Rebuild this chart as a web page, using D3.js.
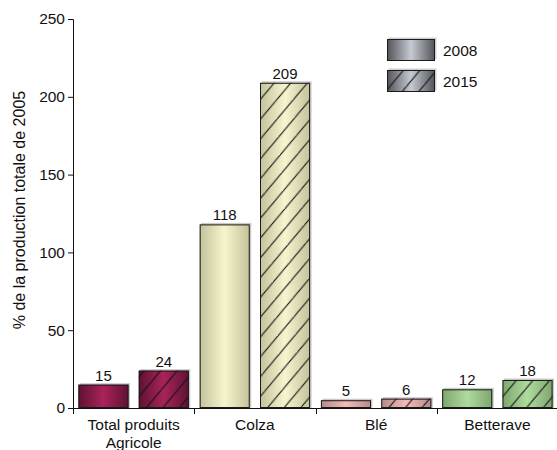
<!DOCTYPE html>
<html>
<head>
<meta charset="utf-8">
<script src="https://cdn.jsdelivr.net/npm/d3@7"></script>
<style>
  html, body { margin: 0; padding: 0; background: #fff; }
  svg { display: block; font-family: "Liberation Sans", Arial, Helvetica, sans-serif; }
</style>
</head>
<body>
<svg id="chart" width="557" height="450"></svg>
<script>
// Production relative à 2005, par filière
const categories = ["Total produits|Agricole", "Colza", "Blé", "Betterave"];
const series = ["2008", "2015"];
const values2008 = [15, 118, 5, 12];
const values2015 = [24, 209, 6, 18];
const yTicks = [0, 50, 100, 150, 200, 250];
const yLabel = "% de la production totale de 2005";

// couleurs de chaque filière : bord sombre, centre clair
const barColors = [
  { edge: "#5e1233", mid: "#a9235a" },
  { edge: "#c4c29a", mid: "#f7f5cd" },
  { edge: "#b48a8a", mid: "#f6bab6" },
  { edge: "#7ea66e", mid: "#aedb9e" }
];
const legendColor = { edge: "#505257", mid: "#c6cad2" };

const svg = d3.select("#chart");
const margin = { left: 73, right: 0, top: 19, bottom: 42 };
const W = 557, H = 450;

const x = d3.scaleBand().domain(d3.range(categories.length))
  .range([margin.left, 558]).padding(0);
const xs = d3.scaleBand().domain(series)
  .range([0, x.bandwidth()]).paddingInner(0.17).paddingOuter(0.09);
const y = d3.scaleLinear().domain([0, 250]).range([H - margin.bottom, margin.top]);

const defs = svg.append("defs");

function gradient(id, c) {
  const g = defs.append("linearGradient").attr("id", id)
    .attr("x1", "0%").attr("x2", "100%").attr("y1", "0%").attr("y2", "0%");
  g.append("stop").attr("offset", "0%").attr("stop-color", c.edge);
  g.append("stop").attr("offset", "50%").attr("stop-color", c.mid);
  g.append("stop").attr("offset", "100%").attr("stop-color", c.edge);
}
barColors.forEach((c, i) => gradient("grad" + i, c));
gradient("gradLegend", legendColor);

// motif hachuré pour la série 2015
const hatch = defs.append("pattern").attr("id", "hatch")
  .attr("patternUnits", "userSpaceOnUse")
  .attr("width", 18).attr("height", 18)
  .attr("patternTransform", "rotate(-5)");
hatch.append("path").attr("d", "M-2,20 L20,-2 M-20,20 L2,-2 M16,38 L38,16")
  .attr("stroke", "#111").attr("stroke-width", 1.1).attr("fill", "none");

const rows = categories.map((c, i) => ({ i, vals: [values2008[i], values2015[i]] }));

const groups = svg.append("g").selectAll("g").data(rows).join("g")
  .attr("transform", d => `translate(${x(d.i)},0)`);

groups.each(function (d) {
  const g = d3.select(this);
  series.forEach((s, k) => {
    const v = d.vals[k];
    const bx = xs(s), bw = xs.bandwidth();
    const top = y(v), h = y(0) - y(v);
    // ombre légère
    g.append("rect").attr("x", bx + 1.5).attr("y", top - 1.5)
      .attr("width", bw).attr("height", h + 1.5).attr("fill", "#c9c9c9");
    g.append("rect").attr("x", bx).attr("y", top).attr("width", bw).attr("height", h)
      .attr("fill", `url(#grad${d.i})`);
    if (k === 1) {
      g.append("rect").attr("x", bx).attr("y", top).attr("width", bw).attr("height", h)
        .attr("fill", "url(#hatch)");
    }
    g.append("rect").attr("x", bx + 0.5).attr("y", top + 0.5)
      .attr("width", bw - 1).attr("height", Math.max(0, h - 1))
      .attr("fill", "none").attr("stroke", "#1a1a1a").attr("stroke-width", 1);
    g.append("text").attr("x", bx + bw / 2).attr("y", top - 4)
      .attr("text-anchor", "middle").attr("font-size", 15).attr("fill", "#111")
      .text(v);
  });
});

// axe Y
const yAxis = svg.append("g").attr("transform", `translate(${margin.left},0)`)
  .call(d3.axisLeft(y).tickValues(yTicks).tickSize(5).tickPadding(3));
yAxis.selectAll("text").attr("font-size", 15.5).attr("fill", "#111")
  .attr("font-family", "Liberation Sans, Arial, sans-serif");
yAxis.selectAll("line").attr("stroke", "#111");
yAxis.select(".domain").attr("stroke", "#111");

// axe X avec graduations entre les catégories
const xAxisG = svg.append("g").attr("transform", `translate(0,${y(0)})`);
xAxisG.append("line").attr("x1", margin.left).attr("x2", W)
  .attr("y1", 0.5).attr("y2", 0.5).attr("stroke", "#111");
const bounds = d3.range(categories.length).map(i => x(i));
xAxisG.selectAll("line.tick").data(bounds).join("line").attr("class", "tick")
  .attr("x1", d => Math.round(d) + 0.5).attr("x2", d => Math.round(d) + 0.5)
  .attr("y1", 0).attr("y2", 6).attr("stroke", "#111");
xAxisG.selectAll("text").data(categories).join("text")
  .attr("text-anchor", "middle").attr("font-size", 15.5).attr("fill", "#111")
  .attr("transform", (d, i) => `translate(${x(i) + x.bandwidth() / 2},0)`)
  .each(function (d) {
    const t = d3.select(this);
    d.split("|").forEach((line, j) => {
      t.append("tspan").attr("x", 0).attr("y", 22 + j * 17.5).text(line);
    });
  });

// titre de l'axe Y
svg.append("text")
  .attr("transform", `translate(25,${(87 + 333) / 2}) rotate(-90)`)
  .attr("text-anchor", "middle").attr("font-size", 16).attr("fill", "#111")
  .text(yLabel);

// légende
const legend = svg.append("g").attr("transform", "translate(387,39)");
series.forEach((s, k) => {
  const lg = legend.append("g").attr("transform", `translate(0,${k * 31})`);
  lg.append("rect").attr("x", 1.5).attr("y", -1.5).attr("width", 48).attr("height", 22)
    .attr("fill", "#cfcfcf");
  lg.append("rect").attr("width", 48).attr("height", 22).attr("fill", "url(#gradLegend)");
  if (k === 1) lg.append("rect").attr("width", 48).attr("height", 22).attr("fill", "url(#hatch)");
  lg.append("rect").attr("x", 0.5).attr("y", 0.5).attr("width", 47).attr("height", 21)
    .attr("fill", "none").attr("stroke", "#1a1a1a");
  lg.append("text").attr("x", 56).attr("y", 16.5).attr("font-size", 15.5)
    .attr("fill", "#111").text(s);
});
</script>
</body>
</html>
